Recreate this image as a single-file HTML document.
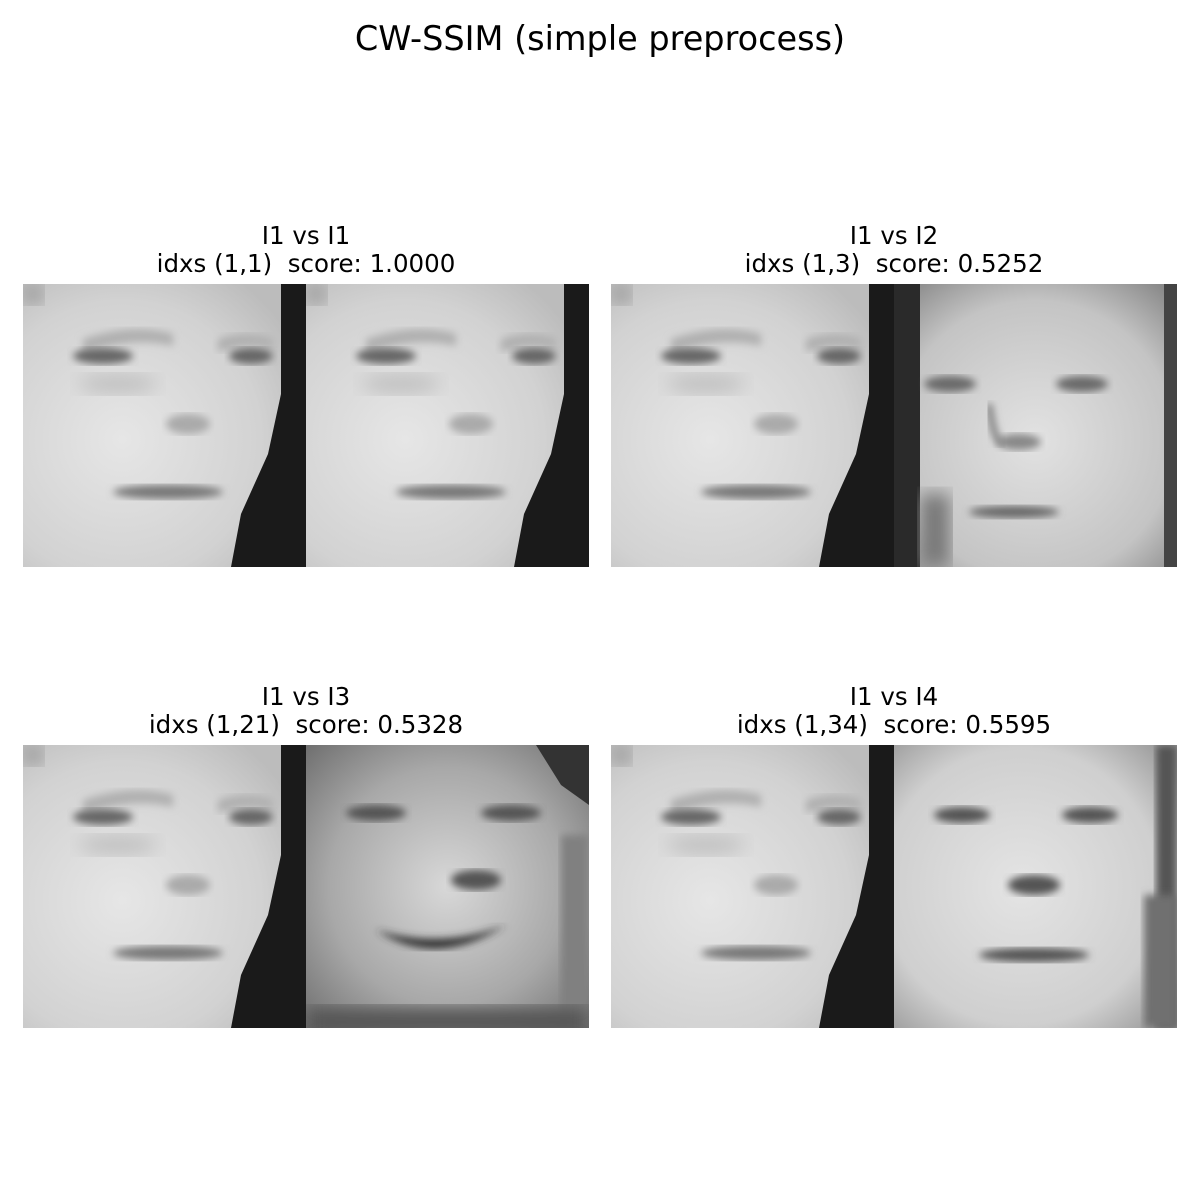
<!DOCTYPE html>
<html><head><meta charset="utf-8"><style>
body{margin:0;background:#fff;width:1200px;height:1200px;position:relative;overflow:hidden;font-family:"Liberation Sans","DejaVu Sans",sans-serif}
.t{position:absolute;width:600px;text-align:center;font-size:24.5px;line-height:28px;color:#000;font-family:"DejaVu Sans","Liberation Sans",sans-serif;white-space:pre}
</style></head><body>
<div style="position:absolute;top:19px;width:1200px;text-align:center;font-size:33.5px;font-family:'DejaVu Sans','Liberation Sans',sans-serif">CW-SSIM (simple preprocess)</div>
<div class="t" style="left:6px;top:222px">I1 vs I1
idxs (1,1)  score: 1.0000</div>
<div class="t" style="left:594px;top:222px">I1 vs I2
idxs (1,3)  score: 0.5252</div>
<div class="t" style="left:6px;top:683px">I1 vs I3
idxs (1,21)  score: 0.5328</div>
<div class="t" style="left:594px;top:683px">I1 vs I4
idxs (1,34)  score: 0.5595</div>
<svg width="1200" height="1200" style="position:absolute;left:0;top:0" id="s">
<defs>
<clipPath id="cp"><rect x="0" y="0" width="283" height="283"/></clipPath>
<filter id="b4"><feGaussianBlur stdDeviation="4"/></filter>
<filter id="b8"><feGaussianBlur stdDeviation="9"/></filter>
<radialGradient id="skin1" cx="0.35" cy="0.55" r="0.7"><stop offset="0" stop-color="#e6e6e6"/><stop offset="0.7" stop-color="#d2d2d2"/><stop offset="1" stop-color="#bcbcbc"/></radialGradient>
<radialGradient id="skin2" cx="0.5" cy="0.55" r="0.7"><stop offset="0" stop-color="#e2e2e2"/><stop offset="0.7" stop-color="#c4c4c4"/><stop offset="1" stop-color="#8a8a8a"/></radialGradient>
<radialGradient id="skin3" cx="0.5" cy="0.5" r="0.7"><stop offset="0" stop-color="#d8d8d8"/><stop offset="0.6" stop-color="#a8a8a8"/><stop offset="1" stop-color="#707070"/></radialGradient>
<radialGradient id="skin4" cx="0.45" cy="0.5" r="0.7"><stop offset="0" stop-color="#e4e4e4"/><stop offset="0.7" stop-color="#cfcfcf"/><stop offset="1" stop-color="#9a9a9a"/></radialGradient>
</defs>
</svg>
<script>
const svg=document.getElementById('s');
const NS='http://www.w3.org/2000/svg';
function el(tag,attrs,parent){const e=document.createElementNS(NS,tag);for(const k in attrs)e.setAttribute(k,attrs[k]);(parent||svg).appendChild(e);return e;}
function base(x,y){const o=el('g',{transform:`translate(${x},${y})`});return el('g',{'clip-path':'url(#cp)'},o);}
function face1(x,y,name){
 const g=base(x,y);
 
 
 el('rect',{x:0,y:0,width:283,height:283,fill:'url(#skin1)'},g);
 el('rect',{x:0,y:0,width:20,height:20,fill:'#999',filter:'url(#b8)'},g);
 el('path',{d:'M60 55 Q110 38 150 50 L150 62 Q110 52 60 70Z',fill:'#b0b0b0',filter:'url(#b4)'},g);
 el('path',{d:'M195 55 Q225 45 250 55 L250 65 Q225 58 195 68Z',fill:'#b0b0b0',filter:'url(#b4)'},g);
 el('ellipse',{cx:80,cy:72,rx:30,ry:8,fill:'#666',filter:'url(#b4)'},g);
 el('ellipse',{cx:228,cy:72,rx:22,ry:8,fill:'#666',filter:'url(#b4)'},g);
 el('ellipse',{cx:95,cy:100,rx:40,ry:10,fill:'#c0c0c0',filter:'url(#b8)'},g);
 el('ellipse',{cx:165,cy:140,rx:22,ry:10,fill:'#aaa',filter:'url(#b4)'},g);
 el('ellipse',{cx:145,cy:208,rx:55,ry:7,fill:'#777',filter:'url(#b4)'},g);
 el('path',{d:'M258 0 L283 0 L283 283 L208 283 L218 230 L245 170 L258 110Z',fill:'#1a1a1a'},g);
}
function face2(x,y){
 const g=base(x,y);
 
 
 el('rect',{x:0,y:0,width:283,height:283,fill:'url(#skin2)'},g);
 el('rect',{x:0,y:0,width:26,height:283,fill:'#2a2a2a'},g);
 el('rect',{x:270,y:0,width:13,height:283,fill:'#444'},g);
 el('ellipse',{cx:56,cy:100,rx:26,ry:8,fill:'#6a6a6a',filter:'url(#b4)'},g);
 el('ellipse',{cx:188,cy:100,rx:26,ry:8,fill:'#6a6a6a',filter:'url(#b4)'},g);
 el('path',{d:'M95 120 Q100 160 110 160',stroke:'#777',fill:'none','stroke-width':6,filter:'url(#b4)'},g);
 el('ellipse',{cx:125,cy:158,rx:22,ry:8,fill:'#888',filter:'url(#b4)'},g);
 el('ellipse',{cx:120,cy:228,rx:45,ry:6,fill:'#666',filter:'url(#b4)'},g);
 el('rect',{x:26,y:210,width:30,height:73,fill:'#777',filter:'url(#b8)'},g);
}
function face3(x,y){
 const g=base(x,y);
 
 
 el('rect',{x:0,y:0,width:283,height:283,fill:'url(#skin3)'},g);
 el('path',{d:'M230 0 L283 0 L283 60 L255 40Z',fill:'#333'},g);
 el('rect',{x:255,y:90,width:28,height:193,fill:'#808080',filter:'url(#b4)'},g);
 el('ellipse',{cx:70,cy:68,rx:30,ry:8,fill:'#555',filter:'url(#b4)'},g);
 el('ellipse',{cx:205,cy:68,rx:30,ry:8,fill:'#555',filter:'url(#b4)'},g);
 el('ellipse',{cx:170,cy:135,rx:25,ry:10,fill:'#555',filter:'url(#b4)'},g);
 el('path',{d:'M70 185 Q130 225 200 180 Q135 205 70 185Z',fill:'#333',filter:'url(#b4)'},g);
 el('rect',{x:0,y:262,width:283,height:30,fill:'#555',filter:'url(#b8)'},g);
}
function face4(x,y){
 const g=base(x,y);
 
 
 el('rect',{x:0,y:0,width:283,height:283,fill:'url(#skin4)'},g);
 el('rect',{x:262,y:0,width:21,height:283,fill:'#555',filter:'url(#b4)'},g);
 el('rect',{x:250,y:150,width:33,height:133,fill:'#707070',filter:'url(#b4)'},g);
 el('ellipse',{cx:68,cy:70,rx:28,ry:8,fill:'#555',filter:'url(#b4)'},g);
 el('ellipse',{cx:196,cy:70,rx:28,ry:8,fill:'#555',filter:'url(#b4)'},g);
 el('ellipse',{cx:140,cy:140,rx:26,ry:10,fill:'#555',filter:'url(#b4)'},g);
 el('ellipse',{cx:140,cy:210,rx:55,ry:7,fill:'#555',filter:'url(#b4)'},g);
}
face1(23,284,'face-i1-a');face1(306,284,'face-i1-b');
face1(611,284,'face-i1-c');face2(894,284);
face1(23,745,'face-i1-d');face3(306,745);
face1(611,745,'face-i1-e');face4(894,745);
</script>
</body></html>
